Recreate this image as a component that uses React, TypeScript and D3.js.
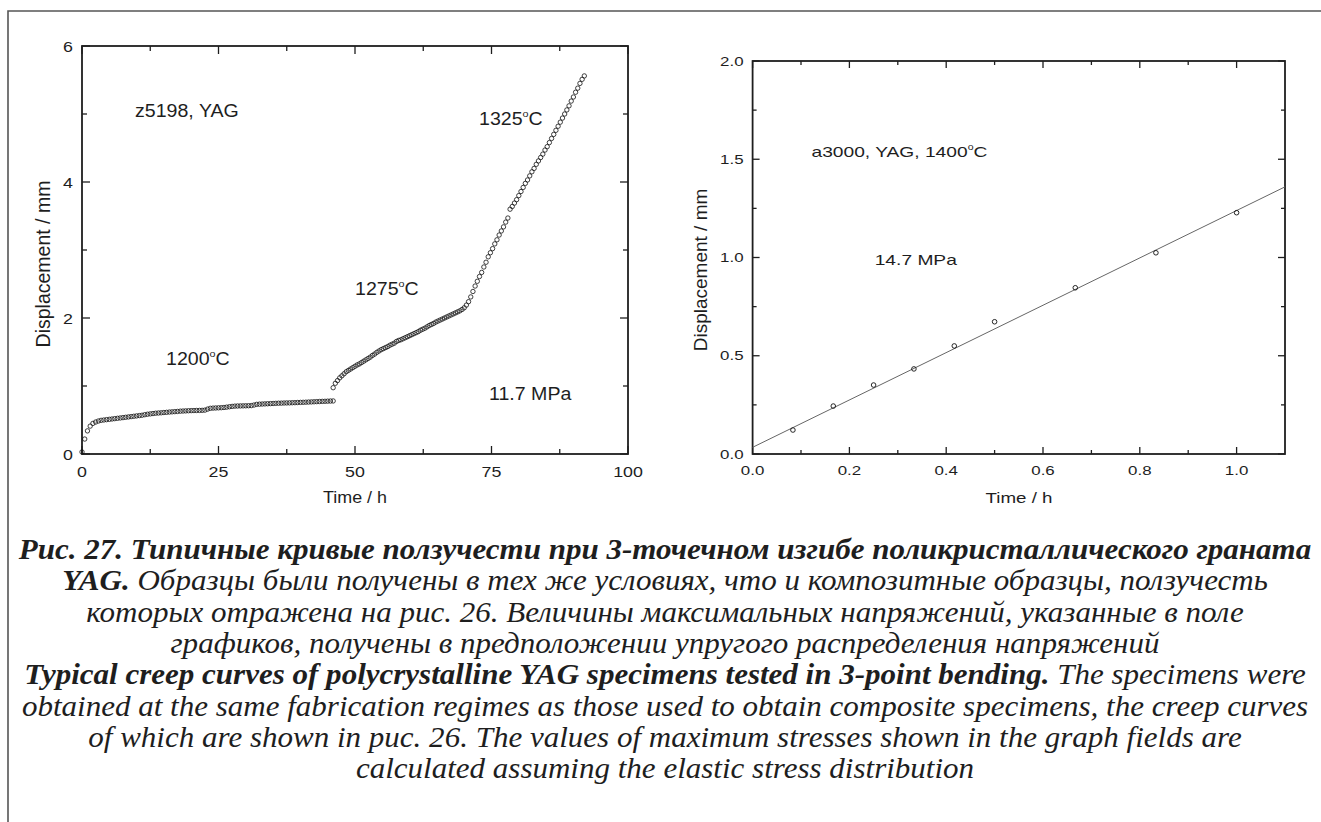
import React from "react";
import * as d3 from "d3";

// ---------- Left chart data (z5198, YAG) ----------
const seg1Start = 0;
const seg1Step = 0.5;
const seg1Values = [
  0.03, 0.22, 0.34, 0.41, 0.45, 0.47, 0.485, 0.495, 0.5, 0.505,
  0.51, 0.515, 0.52, 0.525, 0.53, 0.535, 0.54, 0.545, 0.55, 0.555,
  0.56, 0.565, 0.57, 0.578, 0.585, 0.59, 0.595, 0.6, 0.603, 0.606,
  0.61, 0.613, 0.617, 0.62, 0.623, 0.626, 0.63, 0.632, 0.634, 0.636,
  0.638, 0.639, 0.64, 0.641, 0.642, 0.645, 0.66, 0.672, 0.675, 0.677,
  0.679, 0.681, 0.684, 0.689, 0.695, 0.7, 0.704, 0.706, 0.707, 0.708,
  0.709, 0.71, 0.712, 0.72, 0.73, 0.733, 0.735, 0.737, 0.739, 0.741,
  0.743, 0.745, 0.747, 0.748, 0.75, 0.751, 0.752, 0.754, 0.755, 0.757,
  0.759, 0.76, 0.762, 0.764, 0.766, 0.768, 0.77, 0.772, 0.774, 0.775,
  0.777, 0.779, 0.78,
];
const seg2Start = 46.0;
const seg2Step = 0.4;
const seg2Values = [
  0.975, 1.04, 1.08, 1.12, 1.15, 1.18, 1.21, 1.23, 1.25, 1.27,
  1.29, 1.31, 1.325, 1.345, 1.365, 1.385, 1.405, 1.425, 1.45, 1.47,
  1.495, 1.515, 1.535, 1.55, 1.565, 1.58, 1.6, 1.615, 1.63, 1.655,
  1.67, 1.68, 1.695, 1.71, 1.725, 1.74, 1.755, 1.77, 1.785, 1.8,
  1.82, 1.835, 1.85, 1.87, 1.89, 1.905, 1.92, 1.94, 1.955, 1.97,
  1.985, 2.0, 2.015, 2.03, 2.045, 2.06, 2.075, 2.09, 2.105, 2.125,
  2.15, 2.19, 2.24,
];
const seg3Start = 71.2;
const seg3Step = 0.4;
const seg3Values = [
  2.31, 2.39, 2.47, 2.54, 2.61, 2.67, 2.75, 2.82, 2.9, 2.96,
  3.02, 3.09, 3.15, 3.22, 3.28, 3.34, 3.41, 3.47, 3.6, 3.64,
  3.69, 3.74, 3.8, 3.86, 3.92, 3.98, 4.03, 4.09, 4.15, 4.2,
  4.26, 4.31, 4.36, 4.41, 4.47, 4.52, 4.58, 4.64, 4.7, 4.76,
  4.82, 4.88, 4.94, 5.0, 5.06, 5.12, 5.19, 5.25, 5.32, 5.38,
  5.45, 5.51, 5.56,
];

const leftXMajor = [0, 25, 50, 75, 100];
const leftXMinor = [12.5, 37.5, 62.5, 87.5];
const leftYMajor = [0, 2, 4, 6];
const leftYMinor = [1, 3, 5];

// ---------- Right chart data (a3000, YAG, 1400°C) ----------
const rightTimes = [0.0833, 0.1667, 0.25, 0.3333, 0.4167, 0.5, 0.6667, 0.8333, 1.0];
const rightValues = [0.122, 0.244, 0.351, 0.433, 0.55, 0.673, 0.846, 1.024, 1.228];
const fitIntercept = 0.034;
const fitSlope = 1.205;

const rightXMajor = [0, 0.2, 0.4, 0.6, 0.8, 1.0];
const rightXMinor = [0.1, 0.3, 0.5, 0.7, 0.9];
const rightYMajor = [0, 0.5, 1.0, 1.5, 2.0];
const rightYMinor = [0.25, 0.75, 1.25, 1.75];

// ---------- Caption ----------
type Run = { t: string; b?: boolean };
const captionLines: Run[][] = [
  [{ t: "Рис. 27. Типичные кривые ползучести при 3-точечном изгибе поликристаллического граната", b: true }],
  [{ t: "YAG.", b: true }, { t: " Образцы были получены в тех же условиях, что и композитные образцы, ползучесть" }],
  [{ t: "которых отражена на рис. 26. Величины максимальных напряжений, указанные в поле" }],
  [{ t: "графиков, получены  в предположении упругого распределения напряжений" }],
  [{ t: "Typical creep curves of polycrystalline YAG specimens tested in 3-point bending.", b: true }, { t: " The specimens were" }],
  [{ t: "obtained at the same fabrication regimes as those used to obtain composite specimens, the creep curves" }],
  [{ t: "of which are shown in рис. 26. The values of maximum stresses shown in the graph fields are" }],
  [{ t: "calculated assuming the elastic stress distribution" }],
];

const SANS = "'Liberation Sans', Arial, Helvetica, sans-serif";
const SERIF = "'Liberation Serif', 'Times New Roman', serif";
const INK = "#1e1e1e";

function buildSeg(start: number, step: number, values: number[]) {
  return values.map((v, i) => ({ t: start + i * step, d: v }));
}

function SText({ x, y, sx = 1, size, anchor = "start", rotate, family = SANS, children, ...rest }: any) {
  const tr = `translate(${x},${y}) scale(${sx},1)` + (rotate ? ` rotate(${rotate})` : "");
  return (
    <text transform={tr} fontSize={size} textAnchor={anchor} fontFamily={family} fill={INK} {...rest}>
      {children}
    </text>
  );
}

function Frame({
  x, y, majorX, minorX, majorY, minorY, fmtX, fmtY, majLen, minLen, fontSize, sx, xLabGap, yLabGap,
}: any) {
  const [x0, x1] = x.range();
  const [y0, y1] = y.range(); // y0 bottom, y1 top
  const els: any[] = [];
  majorX.forEach((v: number, i: number) => {
    const px = x(v);
    els.push(<line key={"bx" + i} x1={px} x2={px} y1={y0} y2={y0 - majLen} />);
    els.push(<line key={"tx" + i} x1={px} x2={px} y1={y1} y2={y1 + majLen} />);
  });
  minorX.forEach((v: number, i: number) => {
    const px = x(v);
    els.push(<line key={"bmx" + i} x1={px} x2={px} y1={y0} y2={y0 - minLen} />);
    els.push(<line key={"tmx" + i} x1={px} x2={px} y1={y1} y2={y1 + minLen} />);
  });
  majorY.forEach((v: number, i: number) => {
    const py = y(v);
    els.push(<line key={"ly" + i} x1={x0} x2={x0 + majLen} y1={py} y2={py} />);
    els.push(<line key={"ry" + i} x1={x1} x2={x1 - majLen} y1={py} y2={py} />);
  });
  minorY.forEach((v: number, i: number) => {
    const py = y(v);
    els.push(<line key={"lmy" + i} x1={x0} x2={x0 + minLen} y1={py} y2={py} />);
    els.push(<line key={"rmy" + i} x1={x1} x2={x1 - minLen} y1={py} y2={py} />);
  });
  return (
    <g>
      <g stroke={INK} strokeWidth={1.3}>{els}</g>
      <rect x={x0} y={y1} width={x1 - x0} height={y0 - y1} fill="none" stroke={INK} strokeWidth={1.8} />
      {majorX.map((v: number, i: number) => (
        <SText key={"lx" + i} x={x(v)} y={y0 + xLabGap} sx={sx} size={fontSize} anchor="middle">{fmtX(v)}</SText>
      ))}
      {majorY.map((v: number, i: number) => (
        <SText key={"lyt" + i} x={x0 - yLabGap} y={y(v) + fontSize * 0.36} sx={sx} size={fontSize} anchor="end">{fmtY(v)}</SText>
      ))}
    </g>
  );
}

function Deg({ x, y, pre, size, sx = 1 }: any) {
  return (
    <SText x={x} y={y} size={size} sx={sx}>
      {pre}
      <tspan fontSize={size * 0.55} dy={-size * 0.45}>o</tspan>
      <tspan dy={size * 0.45}>C</tspan>
    </SText>
  );
}

export default function App() {
  const lx = d3.scaleLinear().domain([0, 100]).range([82, 628]);
  const ly = d3.scaleLinear().domain([0, 6]).range([454, 46]);
  const rx = d3.scaleLinear().domain([0, 1.1]).range([752.6, 1285]);
  const ry = d3.scaleLinear().domain([0, 2]).range([454, 61]);

  const leftPts = [
    ...buildSeg(seg1Start, seg1Step, seg1Values),
    ...buildSeg(seg2Start, seg2Step, seg2Values),
    ...buildSeg(seg3Start, seg3Step, seg3Values),
  ];
  const rightPts = rightTimes.map((t, i) => ({ t, d: rightValues[i] }));
  const fitLine = d3
    .line<number>()
    .x((t) => rx(t))
    .y((t) => ry(fitIntercept + fitSlope * t))([0, 1.1]);

  return (
    <svg
      width={1321}
      height={822}
      style={{ position: "absolute", left: 0, top: 0, background: "#fff" }}
    >
      <rect x={0} y={0} width={1321} height={822} fill="#fff" />
      {/* page frame */}
      <path d="M8,822 L8,11 L1321,11" fill="none" stroke="#555" strokeWidth={1.6} />

      {/* Left chart */}
      <Frame
        x={lx} y={ly}
        majorX={leftXMajor} minorX={leftXMinor}
        majorY={leftYMajor} minorY={leftYMinor}
        fmtX={(v: number) => String(v)} fmtY={(v: number) => String(v)}
        majLen={8} minLen={5} fontSize={15.5} sx={1.15} xLabGap={23} yLabGap={9}
      />
      <g fill="none" stroke="#111" strokeWidth={0.8}>
        {leftPts.map((p, i) => (
          <circle key={i} cx={lx(p.t)} cy={ly(p.d)} r={2.2} />
        ))}
      </g>
      <SText x={355} y={503} size={16} sx={1.12} anchor="middle">Time / h</SText>
      <SText x={50} y={264} size={19.5} rotate={-90} anchor="middle">Displacement / mm</SText>
      <SText x={135} y={117} size={17.5} sx={1.12}>z5198, YAG</SText>
      <Deg x={479} y={125} pre="1325" size={17.5} sx={1.12} />
      <Deg x={355} y={295} pre="1275" size={17.5} sx={1.12} />
      <Deg x={166} y={365} pre="1200" size={17.5} sx={1.12} />
      <SText x={489} y={400} size={17.5} sx={1.12}>11.7 MPa</SText>

      {/* Right chart */}
      <Frame
        x={rx} y={ry}
        majorX={rightXMajor} minorX={rightXMinor}
        majorY={rightYMajor} minorY={rightYMinor}
        fmtX={(v: number) => v.toFixed(1)} fmtY={(v: number) => v.toFixed(1)}
        majLen={7} minLen={4} fontSize={13} sx={1.3} xLabGap={21} yLabGap={9}
      />
      <path d={fitLine || ""} fill="none" stroke="#666" strokeWidth={1} />
      <g fill="none" stroke="#111" strokeWidth={0.9}>
        {rightPts.map((p, i) => (
          <circle key={i} cx={rx(p.t)} cy={ry(p.d)} r={2.3} />
        ))}
      </g>
      <SText x={1019} y={503} size={15} sx={1.25} anchor="middle">Time / h</SText>
      <SText x={707} y={270} size={19} rotate={-90} anchor="middle">Displacement / mm</SText>
      <Deg x={811.5} y={157} pre="a3000, YAG, 1400" size={15} sx={1.28} />
      <SText x={874.7} y={265} size={15} sx={1.28}>14.7 MPa</SText>

      {/* Caption */}
      {captionLines.map((runs, i) => (
        <SText key={i} x={665} y={559 + i * 31.3} size={29} sx={1.07} anchor="middle" family={SERIF} fontStyle="italic">
          {runs.map((r, j) => (
            <tspan key={j} fontWeight={r.b ? "bold" : "normal"}>{r.t}</tspan>
          ))}
        </SText>
      ))}
    </svg>
  );
}
